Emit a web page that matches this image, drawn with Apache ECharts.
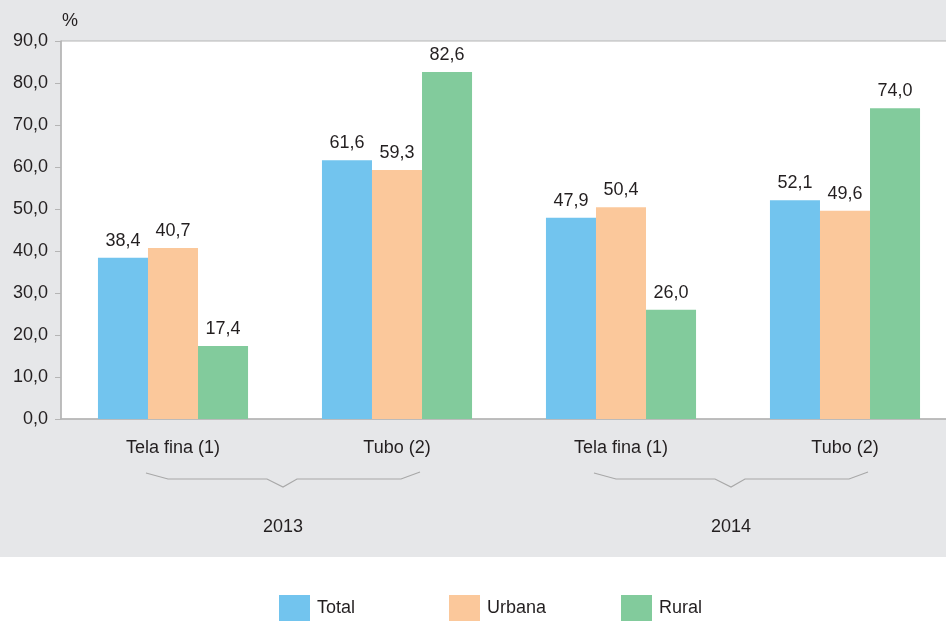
<!DOCTYPE html>
<html><head><meta charset="utf-8">
<script src="https://cdn.jsdelivr.net/npm/echarts@6/dist/echarts.min.js"></script>
<style>html,body{margin:0;padding:0;background:#fff}#c{width:946px;height:621px}</style>
</head><body><div id="c"></div>
<script>
var categories = ['Tela fina (1)', 'Tubo (2)', 'Tela fina (1)', 'Tubo (2)'];
var years = ['2013', '2014'];
var totalValues = [38.4, 61.6, 47.9, 52.1];
var urbanaValues = [40.7, 59.3, 50.4, 49.6];
var ruralValues = [17.4, 82.6, 26.0, 74.0];
var seriesNames = ['Total', 'Urbana', 'Rural'];
var colors = ['#72c4ee', '#fbc89b', '#82cb9c'];
var FONT = 'Liberation Sans';
var FS = 18;
var TXT = '#231f20';

var chart = echarts.init(document.getElementById('c'));
function fmt(v){ return Number(v).toFixed(1).replace('.', ','); }
function mk(name, data, color){
  return {
    name: name, type: 'bar', data: data, barGap: '0%', barCategoryGap: '33%',
    itemStyle: {color: color},
    label: {show: true, position: 'top', distance: 8, color: TXT, fontSize: FS, fontFamily: FONT,
      formatter: function(p){ return fmt(p.value); }}
  };
}
function legendAt(i, left){
  return {data: [seriesNames[i]], left: left, top: 595, padding: 0, itemWidth: 31, itemHeight: 26,
    icon: 'rect', textStyle: {fontSize: FS, fontFamily: FONT, color: TXT, padding: [0,0,0,2]}, selectedMode: false};
}
var option = {
  animation: false,
  backgroundColor: '#ffffff',
  graphic: [{type: 'rect', z: -10, shape: {x: 0, y: 0, width: 946, height: 557}, style: {fill: '#e6e7e9'}, silent: true}],
  legend: [legendAt(0, 279), legendAt(1, 449), legendAt(2, 621)],
  grid: {left: 61, top: 41, width: 896, height: 378, show: true, backgroundColor: '#ffffff',
    borderColor: '#b5b5b5', borderWidth: 1, outerBoundsMode: 'none', containLabel: false},
  xAxis: {type: 'category', data: categories,
    axisLine: {lineStyle: {color: '#b5b5b5', width: 1.5}}, axisTick: {show: false},
    axisLabel: {color: TXT, fontSize: FS, fontFamily: FONT, margin: 20, interval: 0}},
  yAxis: {type: 'value', min: 0, max: 90, interval: 10,
    name: '%', nameLocation: 'end', nameGap: 11,
    nameTextStyle: {color: TXT, fontSize: FS, fontFamily: FONT, align: 'left', padding: [0,0,0,1]},
    axisLine: {show: true, lineStyle: {color: '#b5b5b5', width: 1.5}},
    axisTick: {show: true, length: 6, lineStyle: {color: '#b5b5b5'}},
    splitLine: {show: false},
    axisLabel: {color: TXT, fontSize: FS, fontFamily: FONT, margin: 13, formatter: function(v){ return fmt(v); }}},
  series: [mk(seriesNames[0], totalValues, colors[0]), mk(seriesNames[1], urbanaValues, colors[1]), mk(seriesNames[2], ruralValues, colors[2])]
};
chart.setOption(option);

// braces and year labels computed from the category axis
var g = [option.graphic[0]];
for (var k = 0; k < years.length; k++){
  var c1 = chart.convertToPixel({xAxisIndex: 0}, 2*k);
  var c2 = chart.convertToPixel({xAxisIndex: 0}, 2*k + 1);
  var mid = (c1 + c2) / 2 - 2;
  var yb = 479;
  g.push({type: 'polyline', silent: true, shape: {points: [
      [mid - 137, 473], [mid - 115, yb], [mid - 16, yb], [mid, 487], [mid + 14, yb],
      [mid + 118, yb], [mid + 137, 472]]},
    style: {stroke: '#a8a8a8', lineWidth: 1.2, fill: null}});
  g.push({type: 'text', silent: true, x: mid, y: 527, style: {text: years[k], fill: TXT, fontSize: FS,
    fontFamily: FONT, align: 'center', verticalAlign: 'middle'}});
}
chart.setOption({graphic: g});
</script></body></html>
